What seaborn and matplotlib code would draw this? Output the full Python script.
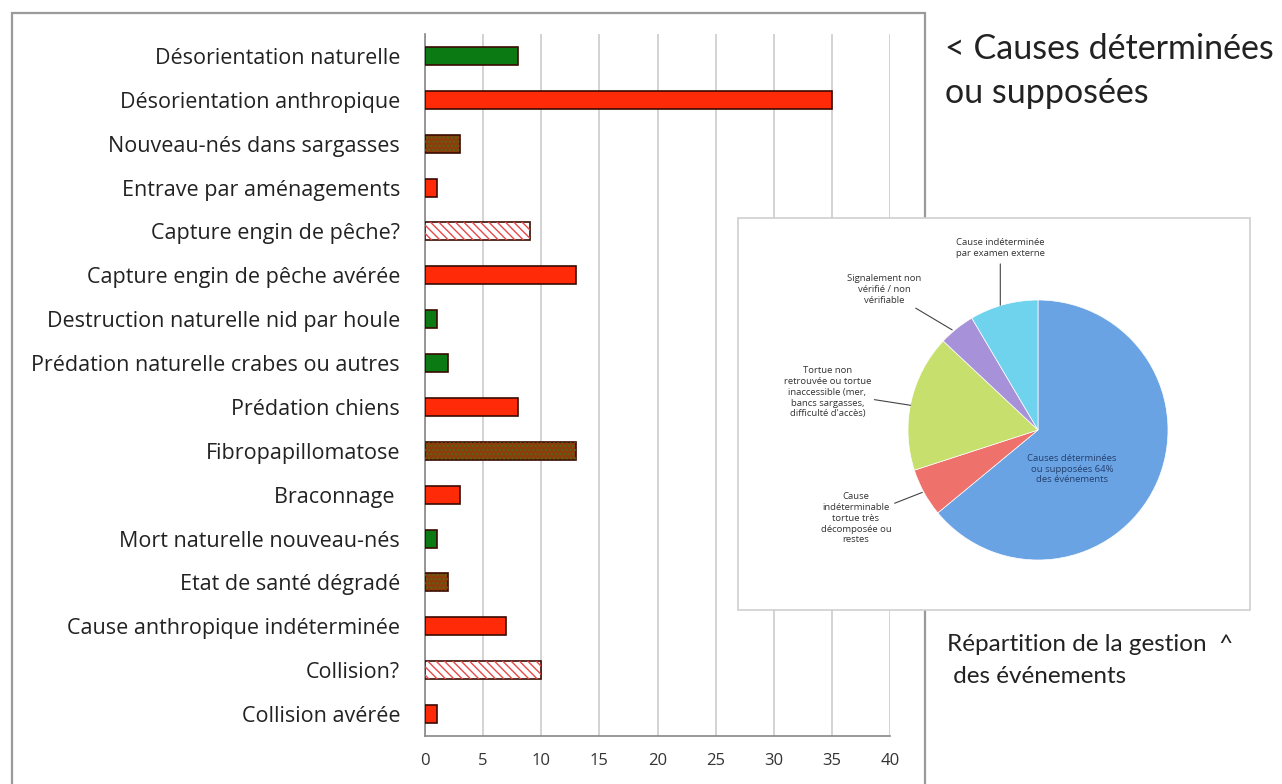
import matplotlib
matplotlib.use("Agg")
import matplotlib.pyplot as plt
import seaborn as sns
from matplotlib.patches import Rectangle

# causes of turtle events (bar chart)
categories = [
    "Désorientation naturelle",
    "Désorientation anthropique",
    "Nouveau-nés dans sargasses",
    "Entrave par aménagements",
    "Capture engin de pêche?",
    "Capture engin de pêche avérée",
    "Destruction naturelle nid par houle",
    "Prédation naturelle crabes ou autres",
    "Prédation chiens",
    "Fibropapillomatose",
    "Braconnage ",
    "Mort naturelle nouveau-nés",
    "Etat de santé dégradé",
    "Cause anthropique indéterminée",
    "Collision?",
    "Collision avérée",
]
values = [8, 35, 3, 1, 9, 13, 1, 2, 8, 13, 3, 1, 2, 7, 10, 1]
kinds = ["naturel", "anthropique", "sante", "anthropique", "suppose", "anthropique",
         "naturel", "naturel", "anthropique", "sante", "anthropique", "naturel",
         "sante", "anthropique", "suppose", "anthropique"]
xticks = [0, 5, 10, 15, 20, 25, 30, 35, 40]

# pie: management of events
pie_labels = [
    "Causes déterminées\nou supposées 64%\ndes événements",
    "Cause\nindéterminable\ntortue très\ndécomposée ou\nrestes",
    "Tortue non\nretrouvée ou tortue\ninaccessible (mer,\nbancs sargasses,\ndifficulté d'accès)",
    "Signalement non\nvérifié / non\nvérifiable",
    "Cause indéterminée\npar examen externe",
]
pie_values = [64, 6, 17, 4.5, 8.5]
pie_colors = ["#6aa3e3", "#ef716b", "#c7df6c", "#a792d9", "#6fd3ee"]

kind_face = {"naturel": "#0c7a12", "anthropique": "#ff2a08", "sante": "#8e3c0c", "suppose": "#ffffff"}

W, H = 1282, 784
sns.set_style("white")
plt.rcParams["font.family"] = ["Open Sans", "DejaVu Sans"]
fig = plt.figure(figsize=(W / 100, H / 100), dpi=100)

# outer frame of the bar chart
fig.patches.append(Rectangle((12 / W, -0.05), (925 - 12) / W, 1 - 13 / H + 0.05,
                             transform=fig.transFigure, fill=False,
                             edgecolor="#9a9a9a", lw=1.6, zorder=0))

ax = fig.add_axes([425 / W, 1 - 736 / H, (890 - 425) / W, (736 - 34) / H])
palette = {c: kind_face[k] for c, k in zip(categories, kinds)}
sns.barplot(x=values, y=categories, hue=categories, palette=palette, orient="h",
            width=0.41, legend=False, ax=ax, edgecolor="#3a0a00", linewidth=1.2,
            saturation=1, zorder=3)

for cont, k in zip(ax.containers, kinds):
    for bar in cont:
        if k == "suppose":
            bar.set_facecolor("white")
            over = Rectangle(bar.get_xy(), bar.get_width(), bar.get_height(),
                             facecolor="none", edgecolor="#e84848", hatch="\\\\\\\\",
                             lw=0, zorder=3.5)
            ax.add_patch(over)
        elif k == "sante":
            over = Rectangle(bar.get_xy(), bar.get_width(), bar.get_height(),
                             facecolor="none", edgecolor="#4f6a12", hatch="....",
                             lw=0, zorder=3.5)
            ax.add_patch(over)

ax.set_xlim(0, 40)
ax.set_ylim(len(categories) - 0.5, -0.5)
ax.set_xticks(xticks)
ax.xaxis.grid(True, color="#cccccc", lw=1.2, zorder=0)
ax.set_axisbelow(True)
ax.set_yticks([i - 0.5 for i in range(len(categories) + 1)], minor=True)
ax.tick_params(axis="y", which="major", length=0, pad=18, labelsize=15.5, labelcolor="#222222")
ax.tick_params(axis="y", which="minor", length=6, color="#888888", width=1)
ax.tick_params(axis="x", length=6, color="#888888", width=1, labelsize=12,
               labelcolor="#333333", pad=6)
for s in ["top", "right"]:
    ax.spines[s].set_visible(False)
for s in ["left", "bottom"]:
    ax.spines[s].set_color("#888888")
    ax.spines[s].set_linewidth(1.2)
ax.set_xlabel("")
ax.set_ylabel("")

# side texts
fig.text(945 / W, 1 - 33 / H, "< Causes déterminées\nou supposées", fontsize=24.5,
         va="top", ha="left", color="#222222", family=["Lato", "DejaVu Sans"],
         linespacing=1.45)
fig.text(947 / W, 1 - 634 / H, "Répartition de la gestion  ^\n des événements", fontsize=17.5,
         va="top", ha="left", color="#222222", family=["Lato", "DejaVu Sans"],
         linespacing=1.65)

# pie inset box
fig.patches.append(Rectangle((738 / W, 1 - 610 / H), (1250 - 738) / W, (610 - 218) / H,
                             transform=fig.transFigure, facecolor="white",
                             edgecolor="#cfcfcf", lw=1.2, zorder=5))

r = 130
pax = fig.add_axes([(1038 - r) / W, 1 - (430 + r) / H, 2 * r / W, 2 * r / H], zorder=6)
pax.pie(pie_values, colors=pie_colors, startangle=90, counterclock=False,
        wedgeprops=dict(edgecolor="white", linewidth=0.5))
pax.set_xlim(-1, 1)
pax.set_ylim(-1, 1)
pax.set_aspect("equal")
pax.axis("off")

small = dict(fontsize=6.8, ha="center", va="center", color="#333333", linespacing=1.25,
             annotation_clip=False)
pax.annotate(pie_labels[0], (0.26, -0.3), color="#24406e", fontsize=6.8, ha="center",
             va="center", linespacing=1.25)
pax.annotate(pie_labels[4], xy=(-0.29, 0.96), xytext=(-0.29, 1.4),
             arrowprops=dict(arrowstyle="-", color="#444444", lw=0.8, shrinkA=2, shrinkB=0), **small)
pax.annotate(pie_labels[3], xy=(-0.66, 0.77), xytext=(-1.18, 1.08),
             arrowprops=dict(arrowstyle="-", color="#444444", lw=0.8, shrinkA=0, shrinkB=0), **small)
pax.annotate(pie_labels[2], xy=(-0.98, 0.19), xytext=(-1.62, 0.29),
             arrowprops=dict(arrowstyle="-", color="#444444", lw=0.8, shrinkA=0, shrinkB=0), **small)
pax.annotate(pie_labels[1], xy=(-0.89, -0.48), xytext=(-1.4, -0.68),
             arrowprops=dict(arrowstyle="-", color="#444444", lw=0.8, shrinkA=0, shrinkB=0), **small)

fig.savefig("out.png", dpi=100)
